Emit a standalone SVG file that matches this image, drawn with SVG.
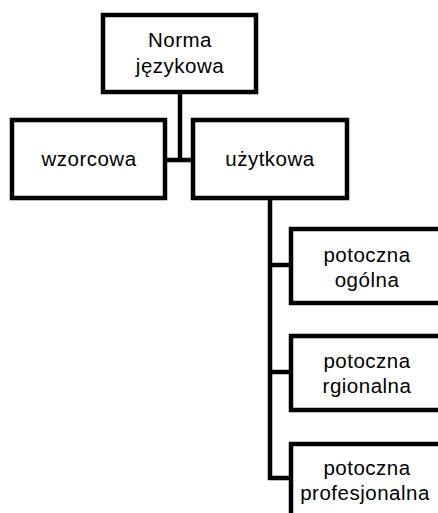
<svg xmlns="http://www.w3.org/2000/svg" width="438" height="513" viewBox="0 0 438 513">
<style>
.box{fill:#fff;stroke:#000;stroke-width:4.5}
.ln{fill:none;stroke:#000;stroke-width:4.5}
text{font-family:"Liberation Sans",Arial,sans-serif;font-size:20.5px;letter-spacing:0.5px;fill:#000;text-anchor:middle}
</style>
<rect width="438" height="513" fill="#fff"/>
<g id="connectors">
<path class="ln" d="M180 92V160M166 160H193M270 198V478H291M270 265H291M270 372H291"/>
</g>
<g id="norma"><rect class="box" x="103" y="15" width="153" height="77"/><text x="180" y="47">Norma</text><text x="180" y="73">językowa</text></g>
<g id="wzorcowa"><rect class="box" x="12" y="120" width="153" height="78"/><text x="89" y="166">wzorcowa</text></g>
<g id="uzytkowa"><rect class="box" x="193" y="120" width="154" height="78"/><text x="270" y="166">użytkowa</text></g>
<g id="ogolna"><rect class="box" x="291" y="229" width="154" height="74"/><text x="367" y="262">potoczna</text><text x="367" y="287">ogólna</text></g>
<g id="regionalna"><rect class="box" x="291" y="336" width="154" height="74"/><text x="367" y="368">potoczna</text><text x="367" y="393">rgionalna</text></g>
<g id="profesjonalna"><rect class="box" x="291" y="444" width="154" height="80"/><text x="367" y="475">potoczna</text><text x="365" y="500">profesjonalna</text></g>
</svg>
